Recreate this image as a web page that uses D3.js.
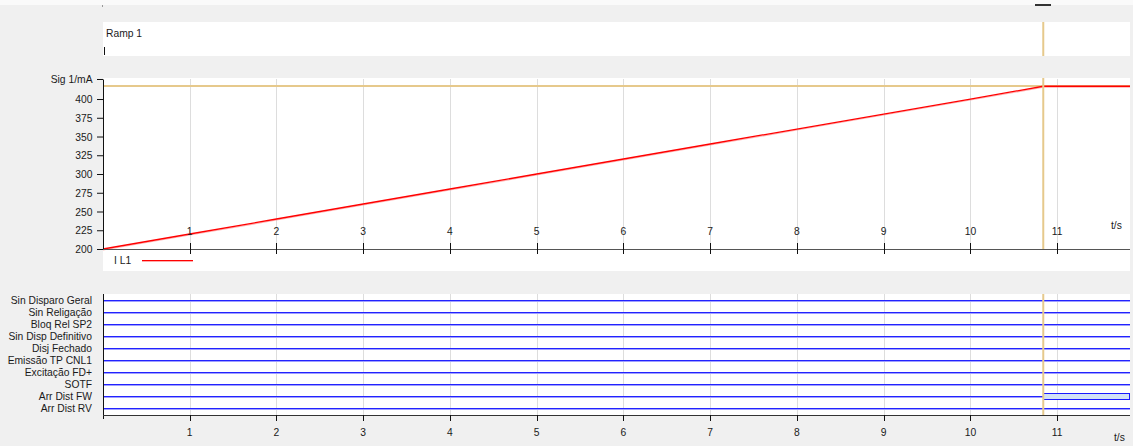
<!DOCTYPE html>
<html>
<head>
<meta charset="utf-8">
<script src="https://cdn.jsdelivr.net/npm/d3@7"></script>
<style>
  html, body { margin: 0; padding: 0; background: #f0f0f0; }
  svg { display: block; font-family: "Liberation Sans", Arial, sans-serif; }
  text { fill: #1a1a1a; font-size: 10.3px; }
</style>
</head>
<body>
<svg id="chart" width="1133" height="446"></svg>
<script>
// Time axis (seconds)
const timeTicks = [1, 2, 3, 4, 5, 6, 7, 8, 9, 10, 11];
const timeMax = 11.84;

// Analog signal I L1 (mA) – ramp samples
const rampTime = [0, 1, 2, 3, 4, 5, 6, 7, 8, 9, 10, 10.84, 11.84];
const rampCurrent = [200, 220, 240, 260, 280, 300, 320, 340, 360, 380, 400, 417, 417];
const currentTicks = [200, 225, 250, 275, 300, 325, 350, 375, 400];
const currentTop = 426.7;
const currentUnit = "Sig 1/mA";

// Cursor position and level
const cursorTime = 10.84;
const cursorLevel = 417;

// Binary channels and when each one switches on (null = stays off)
const channels = ["Sin Disparo Geral", "Sin Religação", "Bloq Rel SP2", "Sin Disp Definitivo",
  "Disj Fechado", "Emissão TP CNL1", "Excitação FD+", "SOTF", "Arr Dist FW", "Arr Dist RV"];
const channelOn = [null, null, null, null, null, null, null, null, 10.84, null];

const svg = d3.select("#chart");
const W = 1133;
const left = 103, right = 1130;

const x = d3.scaleLinear().domain([0, timeMax]).range([left, right]);

// ---------- top strip ----------
svg.append("rect").attr("x", 0).attr("y", 0).attr("width", W).attr("height", 5).attr("fill", "#fafafa");
svg.append("rect").attr("x", 1035).attr("y", 4).attr("width", 16).attr("height", 2).attr("fill", "#333");
svg.append("line").attr("x1", 102.5).attr("x2", 102.5).attr("y1", 5).attr("y2", 7).attr("stroke", "#999");

// ---------- sequence panel ----------
svg.append("rect").attr("x", left).attr("y", 22).attr("width", right - left).attr("height", 34).attr("fill", "#fff");
svg.append("text").attr("x", 106).attr("y", 34).attr("dominant-baseline", "middle").text("Ramp 1");
svg.append("line").attr("x1", 104.5).attr("x2", 104.5).attr("y1", 47).attr("y2", 55).attr("stroke", "#111");
svg.append("line").attr("x1", x(cursorTime)).attr("x2", x(cursorTime)).attr("y1", 22).attr("y2", 56)
  .attr("stroke", "#e6c98c").attr("stroke-width", 2);

// ---------- analog panel ----------
const y = d3.scaleLinear().domain([200, currentTop]).range([249, 79]);
const axisY = 249;

svg.append("rect").attr("x", left).attr("y", 78).attr("width", right - left).attr("height", 193).attr("fill", "#fff");

const g1 = svg.append("g").attr("shape-rendering", "crispEdges");
g1.selectAll("line.grid").data(timeTicks).join("line")
  .attr("x1", d => Math.round(x(d)) + 0.5).attr("x2", d => Math.round(x(d)) + 0.5)
  .attr("y1", 79).attr("y2", axisY).attr("stroke", "#dddddd");

// cursor level line
g1.append("line").attr("x1", left).attr("x2", right).attr("y1", y(cursorLevel)).attr("y2", y(cursorLevel))
  .attr("stroke", "#e6c98c").attr("stroke-width", 2);

// ramp trace (pink shade + red line)
const rampPts = rampTime.map((t, i) => [t, rampCurrent[i]]);
const lineGen = d3.line().x(d => x(d[0])).y(d => y(d[1]));
svg.append("path").attr("d", lineGen(rampPts)).attr("fill", "none")
  .attr("stroke", "#ff9090").attr("stroke-width", 1.2).attr("stroke-opacity", 0.7)
  .attr("transform", "translate(0,1)");
svg.append("path").attr("d", lineGen(rampPts)).attr("fill", "none")
  .attr("stroke", "#ff0000").attr("stroke-width", 1.3);

// cursor vertical
svg.append("line").attr("x1", x(cursorTime)).attr("x2", x(cursorTime)).attr("y1", 78).attr("y2", axisY)
  .attr("stroke", "#e6c98c").attr("stroke-width", 2);

// y axis
const yAxis = d3.axisLeft(y).tickValues(currentTicks.concat([currentTop]))
  .tickFormat(d => d === currentTop ? currentUnit : d3.format("d")(d))
  .tickSize(6).tickSizeOuter(0);
const ya = svg.append("g").attr("transform", `translate(${left},0)`).call(yAxis);
ya.select(".domain").attr("stroke", "#111");
ya.selectAll(".tick line").attr("stroke", "#111");
ya.selectAll(".tick text").attr("x", -10.5).attr("dy", "0.35em").style("font-size", "10.3px")
  .style("font-family", "Liberation Sans, Arial, sans-serif").attr("fill", "#1a1a1a");

// x axis with labels above the line
const xa = svg.append("g").attr("transform", `translate(0,${axisY})`).attr("shape-rendering", "crispEdges");
xa.append("line").attr("x1", left).attr("x2", right).attr("y1", 0.5).attr("y2", 0.5).attr("stroke", "#555");
xa.selectAll("line.t").data(timeTicks).join("line")
  .attr("x1", d => Math.round(x(d)) + 0.5).attr("x2", d => Math.round(x(d)) + 0.5)
  .attr("y1", -6).attr("y2", 5).attr("stroke", "#111");
xa.selectAll("text").data(timeTicks).join("text")
  .attr("x", d => x(d)).attr("y", -17).attr("text-anchor", "middle").attr("dominant-baseline", "middle")
  .text(d => d);
svg.append("text").attr("x", 1111).attr("y", 226).attr("dominant-baseline", "middle").text("t/s");

// legend
svg.append("text").attr("x", 114).attr("y", 261).attr("dominant-baseline", "middle").text("I L1");
svg.append("line").attr("x1", 142).attr("x2", 193).attr("y1", 260.5).attr("y2", 260.5).attr("stroke", "#ff0000")
  .attr("shape-rendering", "crispEdges");
svg.append("line").attr("x1", 142).attr("x2", 193).attr("y1", 261.5).attr("y2", 261.5).attr("stroke", "#ffaaaa")
  .attr("shape-rendering", "crispEdges");

// ---------- binary panel ----------
const bTop = 294, bAxis = 415;
const cy = d3.scalePoint().domain(channels).range([300, 408]);

svg.append("rect").attr("x", left).attr("y", bTop).attr("width", right - left).attr("height", bAxis - bTop).attr("fill", "#fff");

const g2 = svg.append("g").attr("shape-rendering", "crispEdges");
g2.selectAll("line.grid").data(timeTicks).join("line")
  .attr("x1", d => Math.round(x(d)) + 0.5).attr("x2", d => Math.round(x(d)) + 0.5)
  .attr("y1", bTop).attr("y2", bAxis).attr("stroke", "#dddddd");

channels.forEach((name, i) => {
  const yy = cy(name);
  const xEnd = channelOn[i] == null ? right : x(channelOn[i]);
  g2.append("line").attr("x1", left).attr("x2", xEnd).attr("y1", yy + 0.5).attr("y2", yy + 0.5).attr("stroke", "#2222ff");
  g2.append("line").attr("x1", left).attr("x2", xEnd).attr("y1", yy + 1.5).attr("y2", yy + 1.5).attr("stroke", "#a0a0ff");
  if (channelOn[i] != null) {
    g2.append("rect").attr("x", Math.round(x(channelOn[i])) + 0.5).attr("y", yy - 2.5)
      .attr("width", right - Math.round(x(channelOn[i])) - 1).attr("height", 6)
      .attr("fill", "#d3e2f6").attr("stroke", "#1a1aff");
  }
  svg.append("text").attr("x", 92).attr("y", yy + 1).attr("text-anchor", "end").attr("dominant-baseline", "middle")
    .text(name);
});

svg.append("line").attr("x1", x(cursorTime)).attr("x2", x(cursorTime)).attr("y1", bTop).attr("y2", bAxis)
  .attr("stroke", "#e6c98c").attr("stroke-width", 2);

const g3 = svg.append("g").attr("shape-rendering", "crispEdges");
g3.append("line").attr("x1", left + 0.5).attr("x2", left + 0.5).attr("y1", bTop).attr("y2", 419).attr("stroke", "#111");
g3.append("line").attr("x1", left).attr("x2", right).attr("y1", bAxis + 0.5).attr("y2", bAxis + 0.5).attr("stroke", "#333");
g3.selectAll("line.t").data(timeTicks).join("line")
  .attr("x1", d => Math.round(x(d)) + 0.5).attr("x2", d => Math.round(x(d)) + 0.5)
  .attr("y1", bAxis).attr("y2", bAxis + 6).attr("stroke", "#111");
svg.selectAll("text.bx").data(timeTicks).join("text").attr("class", "bx")
  .attr("x", d => x(d)).attr("y", 433).attr("text-anchor", "middle").attr("dominant-baseline", "middle")
  .text(d => d);
svg.append("text").attr("x", 1114).attr("y", 438).attr("dominant-baseline", "middle").text("t/s");
</script>
</body>
</html>
